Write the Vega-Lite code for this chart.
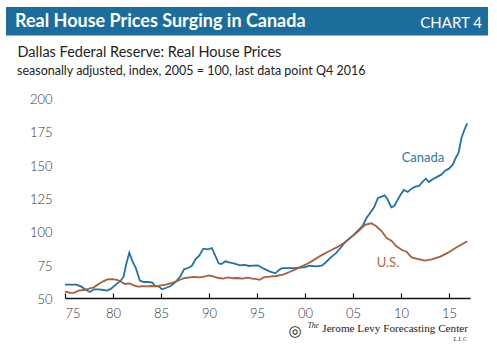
{
  "$schema": "https://vega.github.io/schema/vega-lite/v6.json",
  "autosize": "none",
  "width": 405,
  "height": 200,
  "padding": {"left": 65, "top": 98, "right": 27, "bottom": 64},
  "background": "white",
  "config": {"view": {"stroke": null}, "font": "Lato"},
  "datasets": {
    "prices": [
      {"year": 1975.0, "value": 60, "series": "Canada"},
      {"year": 1975.5, "value": 60, "series": "Canada"},
      {"year": 1976.2, "value": 60, "series": "Canada"},
      {"year": 1976.7, "value": 58.5, "series": "Canada"},
      {"year": 1977.2, "value": 56, "series": "Canada"},
      {"year": 1977.6, "value": 54.5, "series": "Canada"},
      {"year": 1978.0, "value": 56.5, "series": "Canada"},
      {"year": 1978.5, "value": 56.5, "series": "Canada"},
      {"year": 1979.0, "value": 56, "series": "Canada"},
      {"year": 1979.4, "value": 55.5, "series": "Canada"},
      {"year": 1979.8, "value": 57, "series": "Canada"},
      {"year": 1980.3, "value": 60, "series": "Canada"},
      {"year": 1980.8, "value": 63, "series": "Canada"},
      {"year": 1981.1, "value": 66, "series": "Canada"},
      {"year": 1981.4, "value": 76, "series": "Canada"},
      {"year": 1981.7, "value": 84, "series": "Canada"},
      {"year": 1982.0, "value": 78, "series": "Canada"},
      {"year": 1982.4, "value": 72, "series": "Canada"},
      {"year": 1982.8, "value": 63, "series": "Canada"},
      {"year": 1983.2, "value": 62, "series": "Canada"},
      {"year": 1983.7, "value": 62, "series": "Canada"},
      {"year": 1984.1, "value": 61.5, "series": "Canada"},
      {"year": 1984.4, "value": 59, "series": "Canada"},
      {"year": 1984.8, "value": 58.5, "series": "Canada"},
      {"year": 1985.1, "value": 56.5, "series": "Canada"},
      {"year": 1985.5, "value": 57.5, "series": "Canada"},
      {"year": 1986.0, "value": 59, "series": "Canada"},
      {"year": 1986.5, "value": 62, "series": "Canada"},
      {"year": 1987.0, "value": 66, "series": "Canada"},
      {"year": 1987.4, "value": 71.5, "series": "Canada"},
      {"year": 1987.8, "value": 72.5, "series": "Canada"},
      {"year": 1988.2, "value": 74, "series": "Canada"},
      {"year": 1988.6, "value": 79, "series": "Canada"},
      {"year": 1989.0, "value": 82, "series": "Canada"},
      {"year": 1989.4, "value": 87, "series": "Canada"},
      {"year": 1989.9, "value": 86.5, "series": "Canada"},
      {"year": 1990.3, "value": 87.5, "series": "Canada"},
      {"year": 1990.7, "value": 81, "series": "Canada"},
      {"year": 1991.0, "value": 76, "series": "Canada"},
      {"year": 1991.3, "value": 75.5, "series": "Canada"},
      {"year": 1991.7, "value": 77.5, "series": "Canada"},
      {"year": 1992.2, "value": 76.5, "series": "Canada"},
      {"year": 1992.7, "value": 75.8, "series": "Canada"},
      {"year": 1993.2, "value": 74.5, "series": "Canada"},
      {"year": 1993.7, "value": 74.8, "series": "Canada"},
      {"year": 1994.2, "value": 74, "series": "Canada"},
      {"year": 1994.6, "value": 74.3, "series": "Canada"},
      {"year": 1995.1, "value": 74.5, "series": "Canada"},
      {"year": 1995.7, "value": 72, "series": "Canada"},
      {"year": 1996.3, "value": 70, "series": "Canada"},
      {"year": 1996.9, "value": 68.5, "series": "Canada"},
      {"year": 1997.3, "value": 71, "series": "Canada"},
      {"year": 1997.6, "value": 72.4, "series": "Canada"},
      {"year": 1998.2, "value": 72.4, "series": "Canada"},
      {"year": 1998.8, "value": 72.4, "series": "Canada"},
      {"year": 1999.4, "value": 72.8, "series": "Canada"},
      {"year": 1999.9, "value": 73, "series": "Canada"},
      {"year": 2000.5, "value": 74.2, "series": "Canada"},
      {"year": 2001.2, "value": 73.7, "series": "Canada"},
      {"year": 2001.8, "value": 74.5, "series": "Canada"},
      {"year": 2002.2, "value": 77, "series": "Canada"},
      {"year": 2002.7, "value": 80.5, "series": "Canada"},
      {"year": 2003.2, "value": 83.5, "series": "Canada"},
      {"year": 2003.7, "value": 87.5, "series": "Canada"},
      {"year": 2004.2, "value": 92, "series": "Canada"},
      {"year": 2004.6, "value": 94.5, "series": "Canada"},
      {"year": 2005.0, "value": 97, "series": "Canada"},
      {"year": 2005.5, "value": 100.5, "series": "Canada"},
      {"year": 2006.0, "value": 104, "series": "Canada"},
      {"year": 2006.4, "value": 110, "series": "Canada"},
      {"year": 2006.8, "value": 114, "series": "Canada"},
      {"year": 2007.2, "value": 118, "series": "Canada"},
      {"year": 2007.6, "value": 125, "series": "Canada"},
      {"year": 2008.0, "value": 126, "series": "Canada"},
      {"year": 2008.3, "value": 127, "series": "Canada"},
      {"year": 2008.6, "value": 124, "series": "Canada"},
      {"year": 2009.0, "value": 118, "series": "Canada"},
      {"year": 2009.3, "value": 119, "series": "Canada"},
      {"year": 2009.6, "value": 123, "series": "Canada"},
      {"year": 2010.0, "value": 128, "series": "Canada"},
      {"year": 2010.3, "value": 131, "series": "Canada"},
      {"year": 2010.7, "value": 129.5, "series": "Canada"},
      {"year": 2011.1, "value": 132, "series": "Canada"},
      {"year": 2011.5, "value": 133.5, "series": "Canada"},
      {"year": 2011.9, "value": 134, "series": "Canada"},
      {"year": 2012.2, "value": 137, "series": "Canada"},
      {"year": 2012.6, "value": 139.5, "series": "Canada"},
      {"year": 2012.9, "value": 137, "series": "Canada"},
      {"year": 2013.3, "value": 139, "series": "Canada"},
      {"year": 2013.8, "value": 141, "series": "Canada"},
      {"year": 2014.2, "value": 142.5, "series": "Canada"},
      {"year": 2014.6, "value": 145.5, "series": "Canada"},
      {"year": 2015.0, "value": 147, "series": "Canada"},
      {"year": 2015.4, "value": 150, "series": "Canada"},
      {"year": 2015.7, "value": 155, "series": "Canada"},
      {"year": 2016.0, "value": 159, "series": "Canada"},
      {"year": 2016.3, "value": 170, "series": "Canada"},
      {"year": 2016.6, "value": 176, "series": "Canada"},
      {"year": 2016.9, "value": 181, "series": "Canada"},
      {"year": 1975.0, "value": 55, "series": "U.S."},
      {"year": 1975.5, "value": 53.8, "series": "U.S."},
      {"year": 1976.0, "value": 54, "series": "U.S."},
      {"year": 1976.4, "value": 55.5, "series": "U.S."},
      {"year": 1977.0, "value": 56, "series": "U.S."},
      {"year": 1977.5, "value": 57, "series": "U.S."},
      {"year": 1978.0, "value": 58, "series": "U.S."},
      {"year": 1978.5, "value": 60.5, "series": "U.S."},
      {"year": 1979.0, "value": 62.5, "series": "U.S."},
      {"year": 1979.4, "value": 64, "series": "U.S."},
      {"year": 1980.0, "value": 64.2, "series": "U.S."},
      {"year": 1980.5, "value": 63.5, "series": "U.S."},
      {"year": 1980.9, "value": 62, "series": "U.S."},
      {"year": 1981.25, "value": 60.5, "series": "U.S."},
      {"year": 1981.7, "value": 61, "series": "U.S."},
      {"year": 1982.1, "value": 59.7, "series": "U.S."},
      {"year": 1982.6, "value": 58.5, "series": "U.S."},
      {"year": 1983.0, "value": 58.8, "series": "U.S."},
      {"year": 1983.5, "value": 58.7, "series": "U.S."},
      {"year": 1984.0, "value": 59, "series": "U.S."},
      {"year": 1984.5, "value": 58.7, "series": "U.S."},
      {"year": 1985.0, "value": 59.5, "series": "U.S."},
      {"year": 1985.5, "value": 60, "series": "U.S."},
      {"year": 1986.1, "value": 61.2, "series": "U.S."},
      {"year": 1986.6, "value": 62.5, "series": "U.S."},
      {"year": 1987.0, "value": 63.7, "series": "U.S."},
      {"year": 1987.5, "value": 65, "series": "U.S."},
      {"year": 1988.0, "value": 65.5, "series": "U.S."},
      {"year": 1988.5, "value": 65.8, "series": "U.S."},
      {"year": 1989.0, "value": 65.5, "series": "U.S."},
      {"year": 1989.5, "value": 66, "series": "U.S."},
      {"year": 1990.0, "value": 67, "series": "U.S."},
      {"year": 1990.5, "value": 66, "series": "U.S."},
      {"year": 1991.0, "value": 65, "series": "U.S."},
      {"year": 1991.5, "value": 64.5, "series": "U.S."},
      {"year": 1992.0, "value": 65.5, "series": "U.S."},
      {"year": 1992.5, "value": 64.8, "series": "U.S."},
      {"year": 1993.0, "value": 65, "series": "U.S."},
      {"year": 1993.5, "value": 64.5, "series": "U.S."},
      {"year": 1994.0, "value": 65.2, "series": "U.S."},
      {"year": 1994.5, "value": 64.5, "series": "U.S."},
      {"year": 1995.0, "value": 64.2, "series": "U.S."},
      {"year": 1995.3, "value": 63.6, "series": "U.S."},
      {"year": 1995.7, "value": 65.5, "series": "U.S."},
      {"year": 1996.3, "value": 66, "series": "U.S."},
      {"year": 1997.0, "value": 66.5, "series": "U.S."},
      {"year": 1997.7, "value": 67.5, "series": "U.S."},
      {"year": 1998.4, "value": 69.5, "series": "U.S."},
      {"year": 1999.0, "value": 71.5, "series": "U.S."},
      {"year": 1999.6, "value": 73.5, "series": "U.S."},
      {"year": 2000.2, "value": 75.5, "series": "U.S."},
      {"year": 2000.9, "value": 78.4, "series": "U.S."},
      {"year": 2001.7, "value": 82, "series": "U.S."},
      {"year": 2002.6, "value": 85.4, "series": "U.S."},
      {"year": 2003.5, "value": 88.7, "series": "U.S."},
      {"year": 2004.2, "value": 92, "series": "U.S."},
      {"year": 2004.9, "value": 96, "series": "U.S."},
      {"year": 2005.6, "value": 100.3, "series": "U.S."},
      {"year": 2006.25, "value": 104.8, "series": "U.S."},
      {"year": 2006.9, "value": 106, "series": "U.S."},
      {"year": 2007.4, "value": 104, "series": "U.S."},
      {"year": 2008.0, "value": 100, "series": "U.S."},
      {"year": 2008.5, "value": 95, "series": "U.S."},
      {"year": 2009.0, "value": 93, "series": "U.S."},
      {"year": 2009.5, "value": 89, "series": "U.S."},
      {"year": 2010.1, "value": 86, "series": "U.S."},
      {"year": 2010.6, "value": 84.5, "series": "U.S."},
      {"year": 2011.1, "value": 80.5, "series": "U.S."},
      {"year": 2011.8, "value": 79.2, "series": "U.S."},
      {"year": 2012.5, "value": 78, "series": "U.S."},
      {"year": 2013.2, "value": 79, "series": "U.S."},
      {"year": 2014.1, "value": 81, "series": "U.S."},
      {"year": 2014.9, "value": 84, "series": "U.S."},
      {"year": 2015.8, "value": 88, "series": "U.S."},
      {"year": 2016.9, "value": 92.5, "series": "U.S."}
    ],
    "one": [{}]
  },
  "layer": [
    {
      "data": {"name": "prices"},
      "mark": {"type": "line", "strokeWidth": 1.8, "clip": false},
      "encoding": {
        "x": {
          "field": "year", "type": "quantitative",
          "scale": {"domain": [1975, 2017.19], "nice": false, "zero": false},
          "axis": {
            "title": null, "values": [1975, 1980, 1985, 1990, 1995, 2000, 2005, 2010, 2015],
            "labelExpr": "substring(toString(datum.value), 2, 4)",
            "grid": false, "domainColor": "#111111", "domainWidth": 1.5,
            "tickColor": "#111111", "tickWidth": 1.2, "tickSize": -5,
            "labelFont": "Lato", "labelFontSize": 13, "labelFontWeight": 300, "labelColor": "#333333", "labelPadding": 14, "labelOverlap": false
          }
        },
        "y": {
          "field": "value", "type": "quantitative",
          "scale": {"domain": [50, 200], "nice": false, "zero": false},
          "axis": {
            "title": null, "values": [50, 75, 100, 125, 150, 175, 200], "tickCount": 7,
            "grid": false, "domain": false, "ticks": false, "tickSize": 0,
            "labelFont": "Lato", "labelFontSize": 13, "labelFontWeight": 300, "labelColor": "#333333", "labelPadding": 13, "labelOffset": 1.5, "labelOverlap": false
          }
        },
        "color": {"field": "series", "type": "nominal", "scale": {"domain": ["Canada", "U.S."], "range": ["#2272a3", "#a5603f"]}, "legend": null}
      }
    },
    {
      "data": {"name": "one"},
      "mark": {"type": "rect", "color": "#1c6c9c"},
      "encoding": {
        "x": {"datum": 1968.854, "type": "quantitative"},
        "x2": {"datum": 2019.063},
        "y": {"datum": 268.25, "type": "quantitative"},
        "y2": {"datum": 246.875}
      }
    },
    {
      "data": {"name": "one"},
      "mark": {"type": "text", "align": "left", "baseline": "alphabetic", "color": "white", "font": "Lato", "fontWeight": "bold", "fontSize": 18},
      "encoding": {
        "x": {"datum": 1969.792, "type": "quantitative"},
        "y": {"datum": 253.25, "type": "quantitative"},
        "text": {"value": "Real House Prices Surging in Canada"}
      }
    },
    {
      "data": {"name": "one"},
      "mark": {"type": "text", "align": "right", "baseline": "alphabetic", "color": "white", "font": "Lato", "fontSize": 15},
      "encoding": {
        "x": {"datum": 2018.4375, "type": "quantitative"},
        "y": {"datum": 252.5, "type": "quantitative"},
        "text": {"value": "CHART 4"}
      }
    },
    {
      "data": {"name": "one"},
      "mark": {"type": "text", "align": "left", "baseline": "alphabetic", "color": "#222222", "font": "Lato", "fontSize": 14.5},
      "encoding": {
        "x": {"datum": 1970.052, "type": "quantitative"},
        "y": {"datum": 230.75, "type": "quantitative"},
        "text": {"value": "Dallas Federal Reserve: Real House Prices"}
      }
    },
    {
      "data": {"name": "one"},
      "mark": {"type": "text", "align": "left", "baseline": "alphabetic", "color": "#222222", "font": "Lato", "fontSize": 12.5},
      "encoding": {
        "x": {"datum": 1970.0, "type": "quantitative"},
        "y": {"datum": 217.625, "type": "quantitative"},
        "text": {"value": "seasonally  adjusted, index, 2005 = 100, last data point Q4 2016"}
      }
    },
    {
      "data": {"name": "one"},
      "mark": {"type": "text", "align": "center", "baseline": "middle", "color": "#2a78a8", "font": "Lato", "fontSize": 13},
      "encoding": {
        "x": {"datum": 2012.292, "type": "quantitative"},
        "y": {"datum": 155.375, "type": "quantitative"},
        "text": {"value": "Canada"}
      }
    },
    {
      "data": {"name": "one"},
      "mark": {"type": "text", "align": "center", "baseline": "middle", "color": "#a86a4c", "font": "Lato", "fontSize": 13},
      "encoding": {
        "x": {"datum": 2008.646, "type": "quantitative"},
        "y": {"datum": 76.25, "type": "quantitative"},
        "text": {"value": "U.S."}
      }
    },
    {
      "data": {"name": "one"},
      "mark": {"type": "text", "align": "right", "baseline": "alphabetic", "color": "#222222", "font": "Liberation Serif", "fontSize": 11.2},
      "encoding": {
        "x": {"datum": 2016.979, "type": "quantitative"},
        "y": {"datum": 24.5, "type": "quantitative"},
        "text": {"value": "Jerome Levy Forecasting Center"}
      }
    },
    {
      "data": {"name": "one"},
      "mark": {"type": "text", "align": "right", "baseline": "alphabetic", "color": "#222222", "font": "Liberation Serif", "fontStyle": "italic", "fontSize": 7.5},
      "encoding": {
        "x": {"datum": 2001.45, "type": "quantitative"},
        "y": {"datum": 27.5, "type": "quantitative"},
        "text": {"value": "The"}
      }
    },
    {
      "data": {"name": "one"},
      "mark": {"type": "text", "align": "right", "baseline": "alphabetic", "color": "#222222", "font": "Liberation Serif", "fontStyle": "italic", "fontSize": 6},
      "encoding": {
        "x": {"datum": 2016.875, "type": "quantitative"},
        "y": {"datum": 17.75, "type": "quantitative"},
        "text": {"value": "L L C"}
      }
    },
    {
      "data": {"name": "one"},
      "mark": {"type": "text", "align": "center", "baseline": "middle", "color": "#222222", "font": "DejaVu Sans", "fontSize": 15},
      "encoding": {
        "x": {"datum": 1998.958, "type": "quantitative"},
        "y": {"datum": 25.25, "type": "quantitative"},
        "text": {"value": "◎"}
      }
    }
  ]
}
